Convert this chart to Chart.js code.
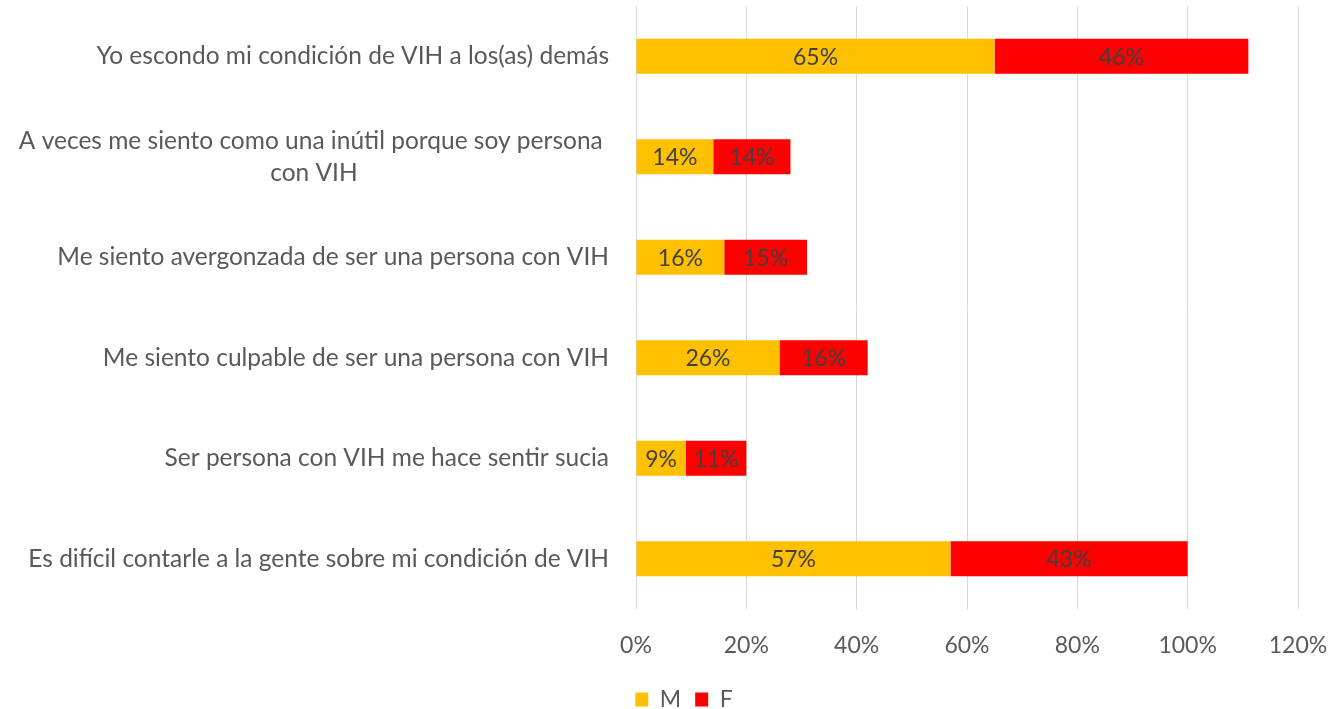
<!DOCTYPE html>
<html>
<head>
<meta charset="utf-8">
<script src="https://cdn.jsdelivr.net/npm/chart.js@4.4.1/dist/chart.umd.min.js"></script>
<style>
  html, body { margin: 0; padding: 0; background: #fff; }
  #wrap { width: 1343px; height: 709px; }
</style>
</head>
<body>
<div id="wrap"><canvas id="chart"></canvas></div>
<script>
const categories = [
  ['Yo escondo mi condición de VIH a los(as) demás'],
  ['A veces me siento como una inútil porque soy persona ', 'con VIH'],
  ['Me siento avergonzada de ser una persona con VIH'],
  ['Me siento culpable de ser una persona con VIH'],
  ['Ser persona con VIH me hace sentir sucia'],
  ['Es difícil contarle a la gente sobre mi condición de VIH']
]
const valuesM = [65, 14, 16, 26, 9, 57]
const valuesF = [46, 14, 15, 16, 11, 43]
const xTicks = [0, 20, 40, 60, 80, 100, 120]

const FONT = 'Lato, "Open Sans", sans-serif'
const TEXT = '#595959'

// category labels on the left, lines centred within a right-aligned block
const categoryLabels = {
  id: 'categoryLabels',
  afterDraw(chart) {
    const ctx = chart.ctx
    const y = chart.scales.y
    const right = chart.chartArea.left - 27
    ctx.save()
    ctx.font = '24.5px ' + FONT
    ctx.fillStyle = TEXT
    ctx.textBaseline = 'middle'
    ctx.textAlign = 'center'
    categories.forEach((lines, i) => {
      const cy = y.getPixelForValue(i)
      const w = Math.max(...lines.map(l => ctx.measureText(l).width))
      const cx = right - w / 2
      const lh = 32
      const y0 = cy - (lines.length - 1) * lh / 2
      lines.forEach((l, j) => ctx.fillText(l, cx, y0 + j * lh))
    })
    ctx.restore()
  }
}

// value labels centred on each bar segment
const barValues = {
  id: 'barValues',
  afterDatasetsDraw(chart) {
    const ctx = chart.ctx
    ctx.save()
    ctx.font = '23px ' + FONT
    ctx.textAlign = 'center'
    ctx.textBaseline = 'middle'
    ctx.fillStyle = '#404040'
    chart.data.datasets.forEach((ds, di) => {
      chart.getDatasetMeta(di).data.forEach((bar, i) => {
        ctx.fillText(ds.data[i] + '%', (bar.x + bar.base) / 2, bar.y + 1)
      })
    })
    ctx.restore()
  }
}

new Chart(document.getElementById('chart'), {
  type: 'bar',
  data: {
    labels: categories.map(l => l.join(' ')),
    datasets: [
      { label: 'M', data: valuesM, backgroundColor: '#FFC000' },
      { label: 'F', data: valuesF, backgroundColor: '#FF0000' }
    ]
  },
  options: {
    indexAxis: 'y',
    responsive: true,
    maintainAspectRatio: false,
    animation: false,
    layout: { padding: { left: 70, right: 45, top: 6, bottom: -12 } },
    datasets: { bar: { categoryPercentage: 1, barPercentage: 0.35 } },
    scales: {
      x: {
        stacked: true,
        min: 0,
        max: 120,
        afterBuildTicks: s => { s.ticks = xTicks.map(v => ({ value: v })) },
        afterFit: s => { s.height = 65; s.paddingLeft = 0; s.paddingRight = 0 },
        grid: { color: '#D9D9D9', lineWidth: 1, drawTicks: false },
        border: { display: false },
        ticks: {
          padding: 23,
          color: TEXT,
          font: { family: FONT, size: 23 },
          callback: v => v + '%'
        }
      },
      y: {
        stacked: true,
        afterFit: s => { s.width = 566 },
        grid: { display: false },
        border: { display: false },
        ticks: { display: false }
      }
    },
    plugins: {
      legend: {
        position: 'bottom',
        labels: {
          color: TEXT,
          font: { family: FONT, size: 23 },
          boxWidth: 13,
          boxHeight: 14,
          padding: 14
        }
      },
      tooltip: { enabled: false }
    }
  },
  plugins: [categoryLabels, barValues]
})
</script>
</body>
</html>
